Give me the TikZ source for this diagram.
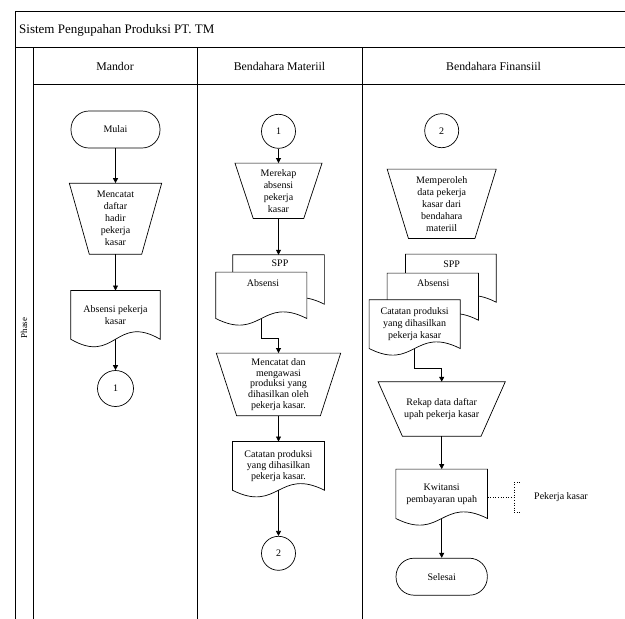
\documentclass[tikz,border=0pt]{standalone}
\usepackage{fontspec}
\setmainfont{Liberation Serif}
\usetikzlibrary{arrows.meta,backgrounds}
\newcommand\traprim[2]{\draw[shp] (#1.north west) -- (#1.north east) -- ([xshift=-#2pt]#1.south east) -- ([xshift=#2pt]#1.south west) -- cycle;}
\newcommand\docrim[2][23]{\begin{pgfonlayer}{background}\draw[shp,fill=white] (#2.south west) .. controls ([yshift=-#1pt]#2.south) and ([yshift=#1pt]#2.south) .. (#2.south east) -- (#2.north east) -- (#2.north west) -- cycle;\end{pgfonlayer}}
\begin{document}
\begin{tikzpicture}[x=1pt,y=-1pt,
  frame/.style={draw=black, line width=0.8pt},
  shp/.style={draw=black, line width=0.7pt},
  txt/.style={font=\fontsize{10}{12}\selectfont, align=center, inner sep=0pt},
  term/.style={txt, shp, rectangle, rounded corners=18pt},
  trapn/.style={txt, rectangle},
  docn/.style={txt, rectangle},
  conn/.style={txt, shp, circle, minimum size=34pt},
  arr/.style={shp, -{Triangle[length=5pt,width=5pt]}},
  dotline/.style={draw=black, line width=0.6pt, dotted},
  head/.style={font=\fontsize{11.8}{14}\selectfont, inner sep=0pt}]
\useasboundingbox (0,0) rectangle (625,619);
% frame
\draw[frame] (15,619) -- (15,11) -- (625,11);
\draw[frame] (15,47.5) -- (625,47.5);
\draw[frame] (33,47.5) -- (33,619);
\draw[frame] (33,84) -- (625,84);
\draw[frame] (197,47.5) -- (197,619);
\draw[frame] (362,47.5) -- (362,619);
\node[anchor=west, font=\fontsize{13}{15}\selectfont, inner sep=0pt] (title) at (19,30) {Sistem Pengupahan Produksi PT. TM};
\node[head] (hm) at (115,66.5) {Mandor};
\node[head] (hb) at (279.5,66.5) {Bendahara Materiil};
\node[head] (hf) at (493.5,66.5) {Bendahara Finansiil};
\node[rotate=90, font=\fontsize{9}{10}\selectfont, inner sep=0pt] (phase) at (24,328) {Phase};
% Mandor
\node[term, minimum width=89pt, minimum height=37pt] (mulai) at (115.5,129.5) {Mulai};
\node[trapn, minimum width=92pt, minimum height=70.7pt] (catat) at (115.5,218.7) {Mencatat\\daftar\\hadir\\pekerja\\kasar};
\traprim{catat}{20}
\node[docn, minimum width=89pt, minimum height=48.3pt] (absm) at (115.5,314.9) {Absensi pekerja\\kasar};
\docrim[26]{absm}
\node[conn, minimum size=36pt] (c1m) at (115.5,388.5) {1};
\draw[arr] (mulai.south) -- (catat.north);
\draw[arr] (catat.south) -- (absm.north);
\draw[arr] (absm.south) -- (c1m.north);
% Bendahara Materiil
\node[conn] (c1b) at (278.5,131.3) {1};
\node[trapn, minimum width=86.7pt, minimum height=55pt] (rekapm) at (278.5,190.8) {Merekap\\absensi\\pekerja\\kasar};
\traprim{rekapm}{18.3}
\node[docn, minimum width=91.3pt, minimum height=49pt] (sppm) at (278.5,279.5) {};
\docrim{sppm}
\node[txt] (sppmt) at (280,263) {SPP};
\node[docn, minimum width=90.7pt, minimum height=46pt] (absb) at (261.3,295.3) {};
\docrim{absb}
\node[txt] (absbt) at (263,282.7) {Absensi};
\node[trapn, minimum width=124pt, minimum height=62.2pt, font=\fontsize{10}{10.6}\selectfont] (awasi) at (278.5,384.4) {Mencatat dan\\mengawasi\\produksi yang\\dihasilkan oleh\\pekerja kasar.};
\traprim{awasi}{20.3}
\node[docn, minimum width=91.7pt, minimum height=48.3pt, font=\fontsize{10}{11.2}\selectfont] (catm) at (278.5,465.9) {Catatan produksi\\yang dihasilkan\\pekerja kasar.};
\docrim{catm}
\node[conn] (c2m) at (278.5,553.3) {2};
\draw[arr] (c1b.south) -- (rekapm.north);
\draw[arr] (rekapm.south) -- (sppm.north);
\draw[arr] (absb.south) -- ++(0,20) -| (awasi.north);
\draw[arr] (awasi.south) -- (catm.north);
\draw[arr] (catm.south) -- (c2m.north);
% Bendahara Finansiil
\node[conn] (c2f) at (441.7,130.7) {2};
\node[trapn, minimum width=108.7pt, minimum height=69pt] (oleh) at (441.7,203.8) {Memperoleh\\data pekerja\\kasar dari\\bendahara\\materiil};
\traprim{oleh}{21.3}
\node[docn, minimum width=90.3pt, minimum height=47.7pt] (sppf) at (450.85,278.15) {};
\docrim{sppf}
\node[txt] (sppft) at (451.7,264) {SPP};
\node[docn, minimum width=91pt, minimum height=46.7pt] (absf) at (432.8,296.65) {};
\docrim{absf}
\node[txt] (absft) at (433.3,282.7) {Absensi};
\node[docn, minimum width=90.7pt, minimum height=48.3pt, font=\fontsize{10}{11.7}\selectfont] (catf) at (414.65,324.15) {Catatan produksi\\yang dihasilkan\\pekerja kasar};
\docrim{catf}
\node[trapn, minimum width=126.7pt, minimum height=54pt] (rekapf) at (441.7,409) {Rekap data daftar\\upah pekerja kasar};
\traprim{rekapf}{24.2}
\node[docn, minimum width=91.3pt, minimum height=49pt] (kw) at (441.7,493.8) {Kwitansi\\pembayaran upah};
\docrim{kw}
\node[term, minimum width=91.3pt, minimum height=37pt] (selesai) at (441.7,576.7) {Selesai};
\node[txt, minimum width=94pt, minimum height=29.6pt] (ann) at (561,497.5) {Pekerja kasar};
\draw[arr] (catf.south) -- ++(0,19.4) -| (rekapf.north);
\draw[arr] (rekapf.south) -- (kw.north);
\draw[arr] (kw.south) -- (selesai.north);
\draw[dotline] (kw.east |- ann.west) -- (ann.west);
\draw[dotline] ([xshift=6pt]ann.north west) -- (ann.north west) -- (ann.south west) -- ([xshift=6pt]ann.south west);
\end{tikzpicture}
\end{document}
